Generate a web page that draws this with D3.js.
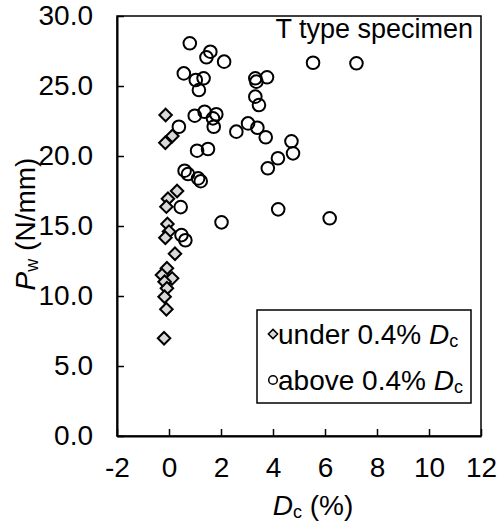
<!DOCTYPE html>
<html>
<head>
<meta charset="utf-8">
<script src="https://cdn.jsdelivr.net/npm/d3@7"></script>
<style>
  body { margin: 0; background: #fff; }
  text { font-family: "Liberation Sans", Arial, sans-serif; fill: #000; }
</style>
</head>
<body>
<div class="chart"></div>
<script>
// under 0.4% Dc specimens (Dc %, Pw N/mm)
const underDc = [-0.13, 0.13, -0.14, 0.31, -0.04, -0.10, -0.06, 0.00, -0.14, 0.23,
                 -0.08, -0.27, 0.12, -0.17, -0.08, -0.17, -0.10, -0.19];
const underPw = [22.93, 21.43, 20.95, 17.50, 16.95, 16.38, 15.14, 14.60, 14.16, 13.02,
                 11.98, 11.50, 11.26, 11.02, 10.55, 9.95, 9.05, 6.98];

// above 0.4% Dc specimens
const aboveDc = [0.80, 1.59, 1.44, 2.12, 5.54, 7.21,
                 0.57, 1.03, 1.33, 1.15, 3.32, 3.36, 3.77, 3.32, 3.46,
                 0.99, 1.37, 1.82, 1.69, 1.72, 0.38, 2.59, 3.04, 3.40, 3.72, 4.71, 4.77,
                 1.08, 1.50, 4.19, 3.80,
                 0.60, 0.73, 1.12, 1.22,
                 0.45, 2.02, 4.20, 0.48, 0.63, 6.18];
const abovePw = [28.05, 27.45, 27.05, 26.74, 26.66, 26.62,
                 25.90, 25.43, 25.55, 24.71, 25.55, 25.31, 25.62, 24.24, 23.64,
                 22.88, 23.16, 22.98, 22.69, 22.09, 22.09, 21.74, 22.33, 22.02, 21.34, 21.05, 20.19,
                 20.38, 20.50, 19.84, 19.12,
                 18.95, 18.71, 18.40, 18.20,
                 16.35, 15.26, 16.19, 14.35, 13.98, 15.55];

const xTicks = [-2, 0, 2, 4, 6, 8, 10, 12];
const yTicks = [0, 5, 10, 15, 20, 25, 30];

const W = 502, H = 530;
const margin = {top: 16, right: 21, bottom: 94, left: 117};
const width = W - margin.left - margin.right;
const height = H - margin.top - margin.bottom;
const fs = 28;
const subFs = 18;

const svg = d3.select(".chart").append("svg")
    .attr("width", W)
    .attr("height", H);

const g = svg.append("g")
    .attr("transform", `translate(${margin.left},${margin.top})`);

const x = d3.scaleLinear().domain([-2, 12]).range([0, width]);
const y = d3.scaleLinear().domain([0, 30]).range([height, 0]);

// frame (top and right)
g.append("rect")
    .attr("width", width)
    .attr("height", height)
    .attr("fill", "none")
    .attr("stroke", "#000")
    .attr("stroke-width", 1.5);

// axes with inward ticks
const xAxis = g.append("g")
    .attr("transform", `translate(0,${height})`)
    .call(d3.axisBottom(x).tickValues(xTicks).tickFormat(d => String(d))
        .tickSizeInner(-7).tickSizeOuter(0).tickPadding(21));
const yAxis = g.append("g")
    .call(d3.axisLeft(y).tickValues(yTicks).tickFormat(d => d.toFixed(1))
        .tickSizeInner(-7).tickSizeOuter(0).tickPadding(24));

[xAxis, yAxis].forEach(a => {
    a.select(".domain").attr("stroke", "#000").attr("stroke-width", 2);
    a.selectAll(".tick line").attr("stroke", "#000").attr("stroke-width", 1.5);
    a.selectAll(".tick text")
        .attr("font-size", fs)
        .attr("font-family", "Liberation Sans, Arial, sans-serif")
        .attr("fill", "#000");
});
xAxis.selectAll(".tick text").attr("dy", "0.71em");

// data points
const diamond = d3.symbol().type(d3.symbolDiamond2).size(100);
const underData = underDc.map((d, i) => [d, underPw[i]]);
const aboveData = aboveDc.map((d, i) => [d, abovePw[i]]);

g.selectAll(".under").data(underData).join("path")
    .attr("class", "under")
    .attr("transform", d => `translate(${x(d[0])},${y(d[1])})`)
    .attr("d", diamond)
    .attr("fill", "#d9d9d9")
    .attr("stroke", "#000")
    .attr("stroke-width", 2);

g.selectAll(".above").data(aboveData).join("circle")
    .attr("class", "above")
    .attr("cx", d => x(d[0]))
    .attr("cy", d => y(d[1]))
    .attr("r", 6.3)
    .attr("fill", "none")
    .attr("stroke", "#000")
    .attr("stroke-width", 2);

// label in corner
g.append("text")
    .attr("x", width - 8)
    .attr("y", 22)
    .attr("text-anchor", "end")
    .attr("font-size", 27)
    .text("T type specimen");

// legend
const lg = svg.append("g").attr("transform", "translate(257,310)");
lg.append("rect")
    .attr("width", 214)
    .attr("height", 93)
    .attr("fill", "#fff")
    .attr("stroke", "#000")
    .attr("stroke-width", 1.5);

lg.append("path")
    .attr("transform", "translate(16,24)")
    .attr("d", d3.symbol().type(d3.symbolDiamond2).size(55))
    .attr("fill", "#d9d9d9")
    .attr("stroke", "#000")
    .attr("stroke-width", 1.5);
lg.append("circle")
    .attr("cx", 16).attr("cy", 70).attr("r", 4.3)
    .attr("fill", "none")
    .attr("stroke", "#000")
    .attr("stroke-width", 1.5);

const legendLabels = ["under 0.4% ", "above 0.4% "];
legendLabels.forEach((lab, i) => {
    const t = lg.append("text")
        .attr("x", 21)
        .attr("y", 34 + i * 46)
        .attr("font-size", fs);
    t.append("tspan").text(lab);
    t.append("tspan").attr("font-style", "italic").text("D");
    t.append("tspan").attr("font-size", subFs).attr("dy", 3).text("c");
});

// x axis title
const xt = svg.append("text")
    .attr("x", 313)
    .attr("y", 515)
    .attr("text-anchor", "middle")
    .attr("font-size", fs);
xt.append("tspan").attr("font-style", "italic").text("D");
xt.append("tspan").attr("font-size", subFs).attr("dy", 3).text("c");
xt.append("tspan").attr("dy", -3).text(" (%)");

// y axis title
const yt = svg.append("text")
    .attr("transform", "translate(35,224) rotate(-90)")
    .attr("text-anchor", "middle")
    .attr("font-size", fs);
yt.append("tspan").attr("font-style", "italic").text("P");
yt.append("tspan").attr("font-size", subFs).attr("dy", 3).text("w");
yt.append("tspan").attr("dy", -3).text(" (N/mm)");
</script>
</body>
</html>
